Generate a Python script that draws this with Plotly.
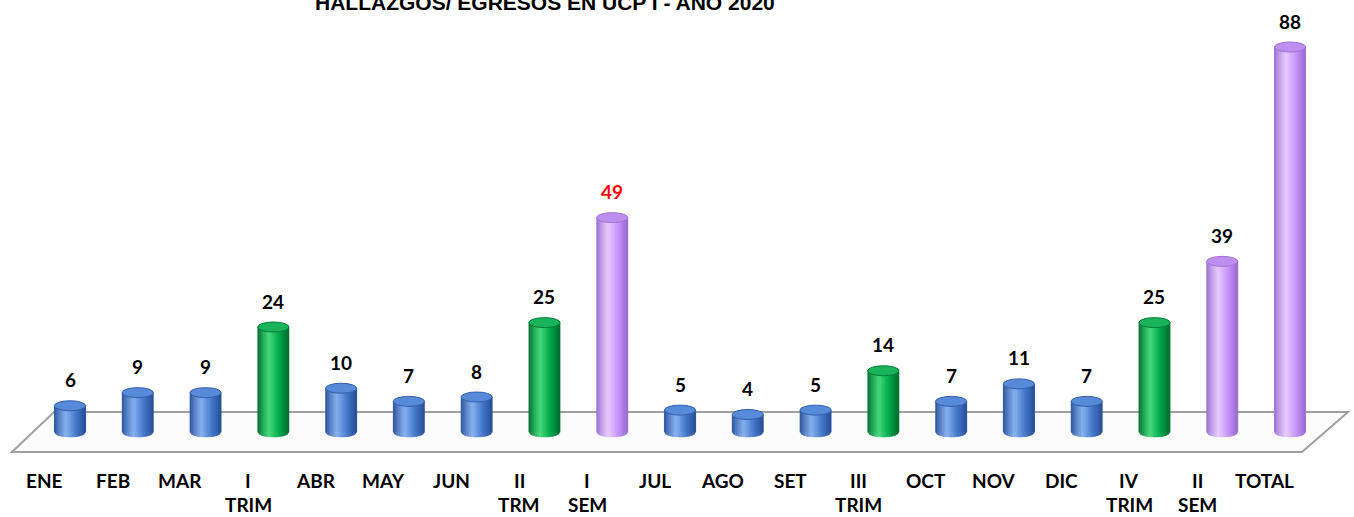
import plotly.graph_objects as go
import numpy as np

# ---------------- data ----------------
categories = ["ENE", "FEB", "MAR", "I<br>TRIM", "ABR", "MAY", "JUN", "II<br>TRM", "I<br>SEM",
              "JUL", "AGO", "SET", "III<br>TRIM", "OCT", "NOV", "DIC", "IV<br>TRIM", "II<br>SEM", "TOTAL"]
values = [6, 9, 9, 24, 10, 7, 8, 25, 49, 5, 4, 5, 14, 7, 11, 7, 25, 39, 88]
kinds = ["mes", "mes", "mes", "trim", "mes", "mes", "mes", "trim", "sem",
         "mes", "mes", "mes", "trim", "mes", "mes", "mes", "trim", "sem", "sem"]
value_label_colors = ["#000000"] * 8 + ["#ff0000"] + ["#000000"] * 10
title_text = "HALLAZGOS/ EGRESOS EN UCP I - AÑO 2020"

# ---------------- styles ----------------
W, H = 1354, 517
PX_PER_UNIT = 4.375
YMIN = -85 / PX_PER_UNIT
YMAX = YMIN + H / PX_PER_UNIT
PX_PER_CAT = 67.78
XMIN = -70 / PX_PER_CAT
XMAX = XMIN + W / PX_PER_CAT

palettes = {
    "mes": dict(dark=(38, 78, 150), base=(72, 122, 204), light=(135, 178, 240),
                top=(88, 138, 218), edge=(50, 95, 170)),
    "trim": dict(dark=(0, 105, 45), base=(0, 170, 75), light=(70, 218, 125),
                 top=(25, 180, 90), edge=(0, 125, 55)),
    "sem": dict(dark=(150, 105, 205), base=(200, 150, 250), light=(232, 205, 255),
                top=(190, 142, 240), edge=(160, 115, 215)),
}

BAR_W = 0.46
RX = BAR_W / 2
RY = 5 / PX_PER_UNIT
NSLICE = 18


def rgb(c):
    return "rgb(%d,%d,%d)" % tuple(int(round(v)) for v in c)


def mix(a, b, t):
    return tuple(a[i] + (b[i] - a[i]) * t for i in range(3))


def shade(p, t):
    h = -0.25
    if t < h:
        s = (t + 1) / (h + 1)
        return mix(p["dark"], p["light"], s ** 0.8)
    s = (t - h) / (1 - h)
    if s < 0.5:
        return mix(p["light"], p["base"], s / 0.5)
    return mix(p["base"], p["dark"], (s - 0.5) / 0.5)


fig = go.Figure()

fig.add_trace(go.Bar(
    x=list(range(len(values))), y=values, width=BAR_W,
    marker=dict(color=[rgb(palettes[k]["base"]) for k in kinds], line=dict(width=0)),
    hoverinfo="skip", showlegend=False,
))

shapes = []
fl_y = 20 / PX_PER_UNIT
floor_path = "M %f,%f L %f,%f L %f,%f L %f,%f Z" % (
    XMIN + 12 / PX_PER_CAT, -fl_y,
    XMIN + 54 / PX_PER_CAT, fl_y,
    XMIN + 1348 / PX_PER_CAT, fl_y,
    XMIN + 1302 / PX_PER_CAT, -fl_y,
)
shapes.append(dict(type="path", xref="x", yref="y", path=floor_path, layer="below",
                   fillcolor="rgb(252,252,252)", line=dict(color="rgb(160,160,160)", width=2)))

for i, (v, k) in enumerate(zip(values, kinds)):
    p = palettes[k]
    edges = np.linspace(-1, 1, NSLICE + 1)
    for j in range(NSLICE):
        t0, t1 = edges[j], edges[j + 1]
        x0, x1 = i + t0 * RX, i + t1 * RX
        yb0 = -RY * np.sqrt(max(0.0, 1 - t0 * t0))
        yb1 = -RY * np.sqrt(max(0.0, 1 - t1 * t1))
        tm = (t0 + t1) / 2
        path = "M %f,%f L %f,%f L %f,%f L %f,%f Z" % (x0, v, x1, v, x1, yb1, x0, yb0)
        col = rgb(shade(p, tm))
        shapes.append(dict(type="path", xref="x", yref="y", path=path,
                           fillcolor=col, line=dict(color=col, width=0.6), layer="above"))
    shapes.append(dict(type="circle", xref="x", yref="y",
                       x0=i - RX, x1=i + RX, y0=v - RY, y1=v + RY,
                       fillcolor=rgb(p["top"]), line=dict(color=rgb(p["edge"]), width=1),
                       layer="above"))

annotations = []
for i, (v, c) in enumerate(zip(values, value_label_colors)):
    annotations.append(dict(x=i, y=v, xref="x", yref="y", text="<b>%d</b>" % v,
                            showarrow=False, yanchor="middle", yshift=26,
                            font=dict(family="Lato, Arial", size=19, color=c)))
line_centers = [480, 504]
for i, cat in enumerate(categories):
    for li, part in enumerate(cat.split("<br>")):
        annotations.append(dict(x=i - 0.37, y=1 - line_centers[li] / H, xref="x", yref="paper",
                                text="<b>%s</b>" % part, showarrow=False, yanchor="middle",
                                xanchor="center", align="center",
                                font=dict(family="Lato, Arial", size=19, color="#000000")))
annotations.append(dict(x=545 / W, y=1, xref="paper", yref="paper", text="<b>%s</b>" % title_text,
                        showarrow=False, yanchor="middle", xanchor="center", yshift=-2,
                        font=dict(family="Arial", size=21, color="#000000")))

fig.update_layout(
    width=W, height=H,
    margin=dict(l=0, r=0, t=0, b=0),
    paper_bgcolor="white", plot_bgcolor="white",
    xaxis=dict(range=[XMIN, XMAX], visible=False, fixedrange=True),
    yaxis=dict(range=[YMIN, YMAX], visible=False, fixedrange=True),
    shapes=shapes, annotations=annotations,
    showlegend=False, bargap=0,
)

fig.write_html("out.html", config={"displayModeBar": False},
               post_script="document.body.style.margin='0';")
